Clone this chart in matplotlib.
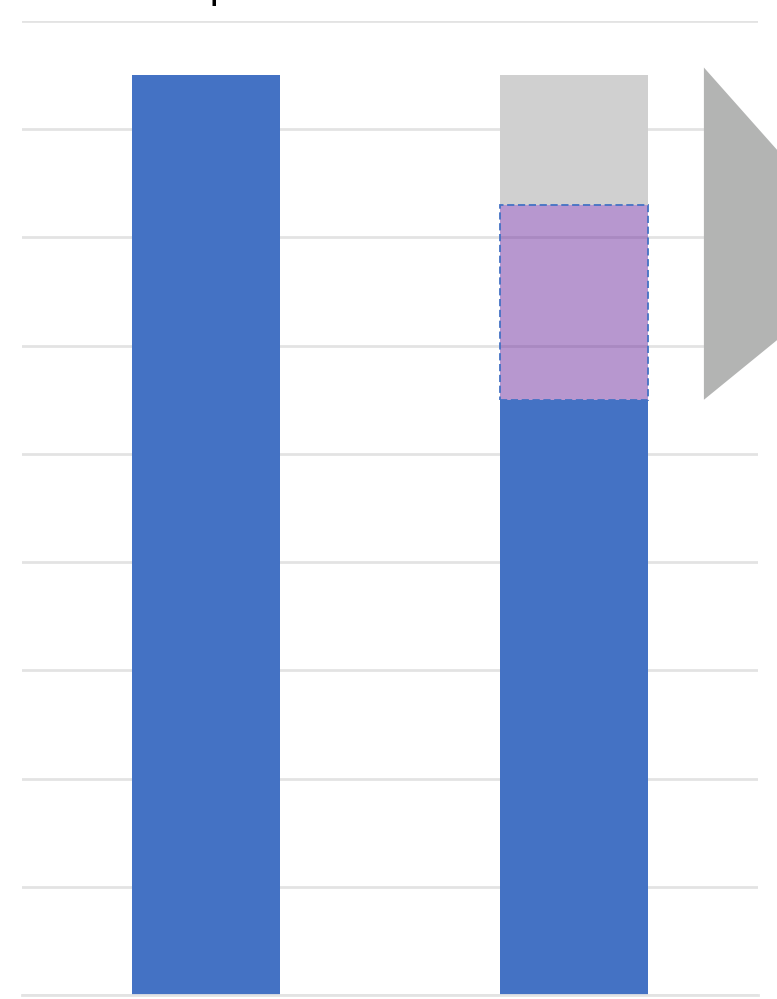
import matplotlib
matplotlib.use("Agg")
import matplotlib.pyplot as plt
from matplotlib.patches import Polygon

# Data
categories = [0, 1]
left_total = [8.5]
right_base = [5.5]
right_added = [1.8]     # 5.5 -> 7.3
right_remaining = [1.2] # 7.3 -> 8.5
arrow_top = 8.57
arrow_tip = [1.818, 6.79]
y_max = 9
grid_ticks = list(range(0, 10))

blue = "#4472c4"
purple = "#7030a0"
gray = "#d0d0d0"
grid_col = "#e3e3e3"

fig = plt.figure(figsize=(7.77, 9.99), dpi=100)
ax = fig.add_axes([22/777, 1 - 995/999, 736/777, 974/999])

ax.bar([categories[0]], left_total, width=0.4, color=blue, zorder=2)
ax.bar([categories[1]], right_base, width=0.4, color=blue, zorder=2)
ax.bar([categories[1]], right_remaining, width=0.4,
       bottom=[right_base[0] + right_added[0]], color=gray, zorder=2)
ax.bar([categories[1]], right_added, width=0.4, bottom=right_base,
       color=purple, alpha=0.5, edgecolor="none", zorder=3)
ax.bar([categories[1]], right_added, width=0.4, bottom=right_base,
       fill=False, edgecolor=blue, linestyle=(0, (4, 2)), linewidth=1.3, zorder=4)

# Gray right-pointing arrow (triangle), clipped by figure edge
tri = Polygon([[1.353, arrow_top], arrow_tip,
               [1.353, right_base[0]]], closed=True, facecolor="#b3b4b3",
               edgecolor="none", clip_on=False, zorder=5)
ax.add_patch(tri)

ax.set_xlim(-0.5, 1.5)
ax.set_ylim(0, y_max)
ax.set_yticks(grid_ticks)
ax.grid(axis="y", color=grid_col, linewidth=2)
ax.set_axisbelow(True)
ax.tick_params(left=False, bottom=False, labelleft=False, labelbottom=False)
for s in ["top", "right", "left"]:
    ax.spines[s].set_visible(False)
ax.spines["bottom"].set_color(grid_col)
ax.spines["bottom"].set_linewidth(2)

fig.text(209/777, 1 + 2/999, "p", fontsize=28, ha="left", va="baseline",
         color="black")

fig.savefig("out.png", dpi=100)
